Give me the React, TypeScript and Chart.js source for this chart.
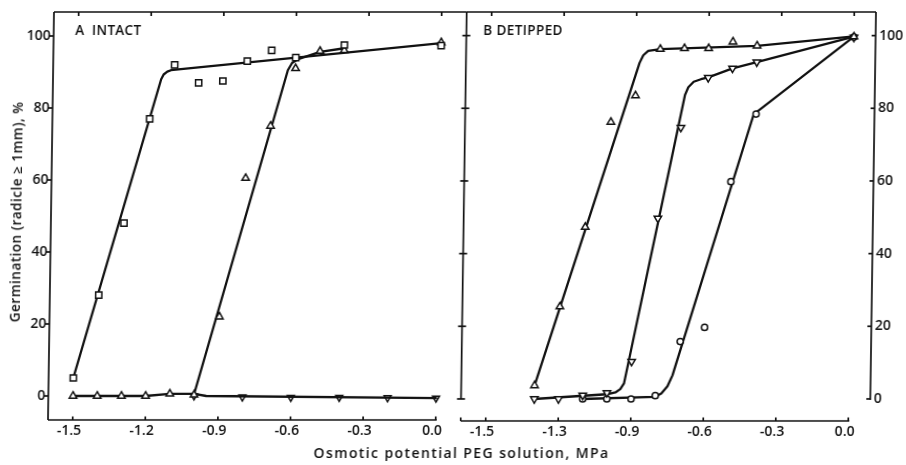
import { useEffect, useRef } from 'react';
import { Chart, registerables } from 'chart.js';

Chart.register(...registerables);

// ---- Panel A (intact seeds): osmotic potential (MPa) vs germination (%) ----
const intactSquareX = [-1.5, -1.4, -1.3, -1.2, -1.1, -1.0, -0.9, -0.8, -0.7, -0.6, -0.4, 0.0];
const intactSquareY = [5, 28, 48, 77, 92, 87, 87.5, 93, 96, 94, 97.5, 97.3];
const intactTriX = [-1.5, -1.4, -1.3, -1.2, -1.1, -1.0, -0.9, -0.8, -0.7, -0.6, -0.5, -0.4, 0.0];
const intactTriY = [0, 0, 0, 0, 0.6, 0.3, 22, 60.5, 75, 91, 95.8, 96, 98.2];
const intactInvX = [-1.0, -0.8, -0.6, -0.4, -0.2, 0.0];
const intactInvY = [0, -0.3, -0.4, -0.4, -0.5, -0.6];

// fitted response curves, panel A
const fitASquareX = [-1.5, -1.155, -1.145, -1.13, -1.115, 0.0];
const fitASquareY = [5, 88, 89.3, 90.1, 90.5, 98];
const fitATriX = [-1.0, -0.632, -0.615, -0.59, -0.5, -0.4];
const fitATriY = [0.5, 90.5, 92.5, 93.6, 95.6, 96.6];
const fitABaseX = [-1.5, -1.2, -1.1, -1.0, -0.95, 0.0];
const fitABaseY = [0, 0, 0.6, 0.6, 0, -0.6];

// ---- Panel B (detipped seeds) ----
const detipTriX = [-1.3, -1.2, -1.1, -1.0, -0.9, -0.8, -0.7, -0.6, -0.5, -0.4, 0.0];
const detipTriY = [3.7, 25.4, 47.3, 76.2, 83.5, 96.3, 96.5, 96.5, 98.3, 97.2, 99.7];
const detipInvX = [-1.3, -1.2, -1.1, -1.0, -0.9, -0.8, -0.71, -0.6, -0.5, -0.4, 0.0];
const detipInvY = [0, 0, 1, 1.7, 10.3, 49.7, 74.7, 88.4, 91, 92.7, 99.5];
const detipCircX = [-1.1, -1.0, -0.9, -0.8, -0.7, -0.6, -0.5, -0.4, 0.0];
const detipCircY = [0, 0, 0, 0.9, 15.8, 19.7, 59.8, 78.4, 99.6];

// fitted response curves, panel B
const fitBTriX = [-1.3, -0.885, -0.87, -0.85, -0.8, -0.4, 0.0];
const fitBTriY = [3.7, 92.5, 94.6, 95.8, 96.3, 97.2, 99.8];
const fitBInvX = [-1.3, -1.0, -0.965, -0.945, -0.93, -0.695, -0.682, -0.66, -0.63, -0.6, -0.5, -0.4, 0.0];
const fitBInvY = [0, 1.3, 1.8, 2.7, 4.3, 83.7, 85.8, 87.3, 88, 88.5, 91, 92.7, 99.7];
const fitBCircX = [-1.1, -0.8, -0.775, -0.75, -0.73, -0.41, 0.0];
const fitBCircY = [0, 0.6, 1.5, 3.5, 6.5, 78.3, 99.7];

// ---- axes ----
const xTickValues = [-1.5, -1.2, -0.9, -0.6, -0.3, 0.0];
const xTickLabelsA = ['-1.5', '-1.2', '-0.9', '-0.6', '-0.3', '0.0'];
const xTickLabelsB = ['-1.5', '-1.3', '-0.9', '-0.6', '-0.3', '0.0'];
const yTickValues = [0, 20, 40, 60, 80, 100];
const yTickLabels = ['0', '20', '40', '60', '80', '100'];

const INK = '#111';
const FONT = '"Open Sans", "DejaVu Sans", sans-serif';
const W = 906;
const H = 465;
const DIVIDER = 460.7; // shared edge between the two panels
const RIGHT_EDGE = 870;

const zip = (xs: number[], ys: number[]) => xs.map((x, i) => ({ x, y: ys[i] }));

const markers = (xs: number[], ys: number[], style: string, radius: number, rotation = 0, fill = '#fff') => ({
  data: zip(xs, ys),
  showLine: false,
  pointStyle: style,
  pointRadius: radius,
  pointRotation: rotation,
  pointBackgroundColor: fill,
  pointBorderColor: INK,
  pointBorderWidth: 1.5,
  order: 0,
});

const curve = (xs: number[], ys: number[]) => ({
  data: zip(xs, ys),
  showLine: true,
  pointRadius: 0,
  borderColor: INK,
  borderWidth: 2.3,
  tension: 0,
  borderJoinStyle: 'round',
  borderCapStyle: 'round',
  order: 1,
});

function framePlugin(panel: 'A' | 'B') {
  return {
    id: 'frame' + panel,
    afterDatasetsDraw(chart: any) {
      const { ctx, chartArea: ca } = chart;
      const px = (v: number) => chart.scales.x.getPixelForValue(v);
      const py = (v: number) => chart.scales.y.getPixelForValue(v);
      const seg = (x1: number, y1: number, x2: number, y2: number) => {
        ctx.beginPath();
        ctx.moveTo(x1, y1);
        ctx.lineTo(x2, y2);
        ctx.stroke();
      };
      ctx.save();
      ctx.strokeStyle = INK;
      ctx.lineWidth = 1.7;
      // top border with inward ticks
      seg(ca.left, ca.top, ca.right, ca.top);
      xTickValues.forEach((v) => seg(px(v), ca.top, px(v), ca.top + 4));
      // bottom axis with inward ticks
      seg(ca.left, ca.bottom, px(0) + 1, ca.bottom);
      xTickValues.forEach((v) => seg(px(v), ca.bottom, px(v), ca.bottom - 3.5));
      if (panel === 'A') {
        seg(ca.left, ca.top, ca.left, ca.bottom);
        yTickValues.forEach((v) => seg(ca.left - 4, py(v), ca.left, py(v)));
      } else {
        const yEnd = py(0);
        // shared divider with crossing ticks
        seg(ca.left, ca.top, ca.left, yEnd);
        yTickValues.forEach((v) => seg(ca.left - 4, py(v), ca.left + 4, py(v)));
        seg(ca.left, ca.bottom, ca.left, ca.bottom - 3.5);
        // right axis
        seg(ca.right, ca.top, ca.right, yEnd + 1);
        yTickValues.forEach((v) => seg(ca.right - 4, py(v), ca.right, py(v)));
      }
      ctx.restore();
    },
  };
}

function makeConfig(panel: 'A' | 'B'): any {
  const isA = panel === 'A';
  const datasets = isA
    ? [
        markers(intactSquareX, intactSquareY, 'rect', 4.4),
        markers(intactTriX, intactTriY, 'triangle', 4.3),
        markers(intactInvX, intactInvY, 'triangle', 4.0, 180, 'rgba(0,0,0,0)'),
        curve(fitASquareX, fitASquareY),
        curve(fitATriX, fitATriY),
        curve(fitABaseX, fitABaseY),
      ]
    : [
        markers(detipTriX, detipTriY, 'triangle', 4.3),
        markers(detipInvX, detipInvY, 'triangle', 4.3, 180),
        markers(detipCircX, detipCircY, 'circle', 3.1),
        curve(fitBTriX, fitBTriY),
        curve(fitBInvX, fitBInvY),
        curve(fitBCircX, fitBCircY),
      ];
  const xLabels = isA ? xTickLabelsA : xTickLabelsB;
  const labelFor = (values: number[], labels: string[], v: number) => {
    const i = values.findIndex((t) => Math.abs(t - v) < 1e-6);
    return i < 0 ? '' : labels[i];
  };
  const bottom = isA ? 420 : 421;
  const tickFont = { family: FONT, size: 14, weight: '600' };
  return {
    type: 'scatter',
    data: { datasets },
    options: {
      responsive: false,
      animation: false,
      devicePixelRatio: 1,
      events: [],
      layout: {
        padding: isA
          ? { left: 0, top: 12, right: W - DIVIDER, bottom: 0 }
          : { left: DIVIDER, top: 12, right: 0, bottom: 0 },
      },
      plugins: { legend: { display: false }, tooltip: { enabled: false } },
      scales: {
        x: {
          type: 'linear',
          min: isA ? -1.602 : -1.6034,
          max: isA ? 0.1033 : 0.0898,
          afterBuildTicks: (s: any) => {
            s.ticks = xTickValues.map((value) => ({ value }));
          },
          afterFit: (s: any) => {
            s.height = H - bottom;
          },
          grid: { display: false, drawTicks: false },
          border: { display: false },
          ticks: {
            autoSkip: false,
            maxRotation: 0,
            padding: 3,
            labelOffset: -3.5,
            color: INK,
            font: tickFont,
            callback: (v: number) => labelFor(xTickValues, xLabels, v),
          },
        },
        y: {
          type: 'linear',
          position: isA ? 'left' : 'right',
          min: isA ? -6.667 : -6.06,
          max: isA ? 106.667 : 106.5,
          afterBuildTicks: (s: any) => {
            s.ticks = yTickValues.map((value) => ({ value }));
          },
          afterFit: (s: any) => {
            s.width = isA ? 48 : W - RIGHT_EDGE;
          },
          grid: { display: false, drawTicks: false },
          border: { display: false },
          ticks: {
            padding: isA ? 3 : 3.5,
            color: INK,
            font: tickFont,
            callback: (v: number) => labelFor(yTickValues, yTickLabels, v),
          },
        },
      },
    },
    plugins: [framePlugin(panel)],
  };
}

export default function App() {
  const refA = useRef<HTMLCanvasElement>(null);
  const refB = useRef<HTMLCanvasElement>(null);

  useEffect(() => {
    const a = new Chart(refA.current as HTMLCanvasElement, makeConfig('A'));
    const b = new Chart(refB.current as HTMLCanvasElement, makeConfig('B'));
    return () => {
      a.destroy();
      b.destroy();
    };
  }, []);

  const canvasStyle: any = { position: 'absolute', left: 0, top: 0, width: W, height: H };
  const text: any = {
    position: 'absolute',
    fontFamily: FONT,
    fontWeight: 600,
    color: INK,
    whiteSpace: 'pre',
    lineHeight: 1,
  };

  return (
    <div style={{ position: 'fixed', left: 0, top: 0, width: W, height: H, background: '#fff', overflow: 'hidden' }}>
      {/* the printed figure is slightly sheared */}
      <div
        style={{
          position: 'absolute',
          left: 0,
          top: 0,
          width: W,
          height: H,
          transform: 'skewX(-0.84deg)',
          transformOrigin: '0px 420px',
        }}
      >
        <canvas ref={refA} width={W} height={H} style={canvasStyle} />
        <canvas ref={refB} width={W} height={H} style={canvasStyle} />
        <div style={{ ...text, left: 69.5, top: 24, fontSize: 13.5, letterSpacing: 0.3 }}>A  INTACT</div>
        <div style={{ ...text, left: 477.5, top: 24, fontSize: 13.5, letterSpacing: 0.4 }}>B DETIPPED</div>
        <div
          style={{
            ...text,
            left: 14,
            top: 212,
            fontSize: 13.5,
            letterSpacing: 0.5,
            transform: 'translate(-50%, -50%) rotate(-90deg)',
          }}
        >
          Germination (radicle ≥ 1mm), %
        </div>
        <div style={{ ...text, left: 9, top: 446, width: W, textAlign: 'center', fontSize: 14, letterSpacing: 1.4 }}>
          Osmotic potential PEG solution, MPa
        </div>
      </div>
    </div>
  );
}
